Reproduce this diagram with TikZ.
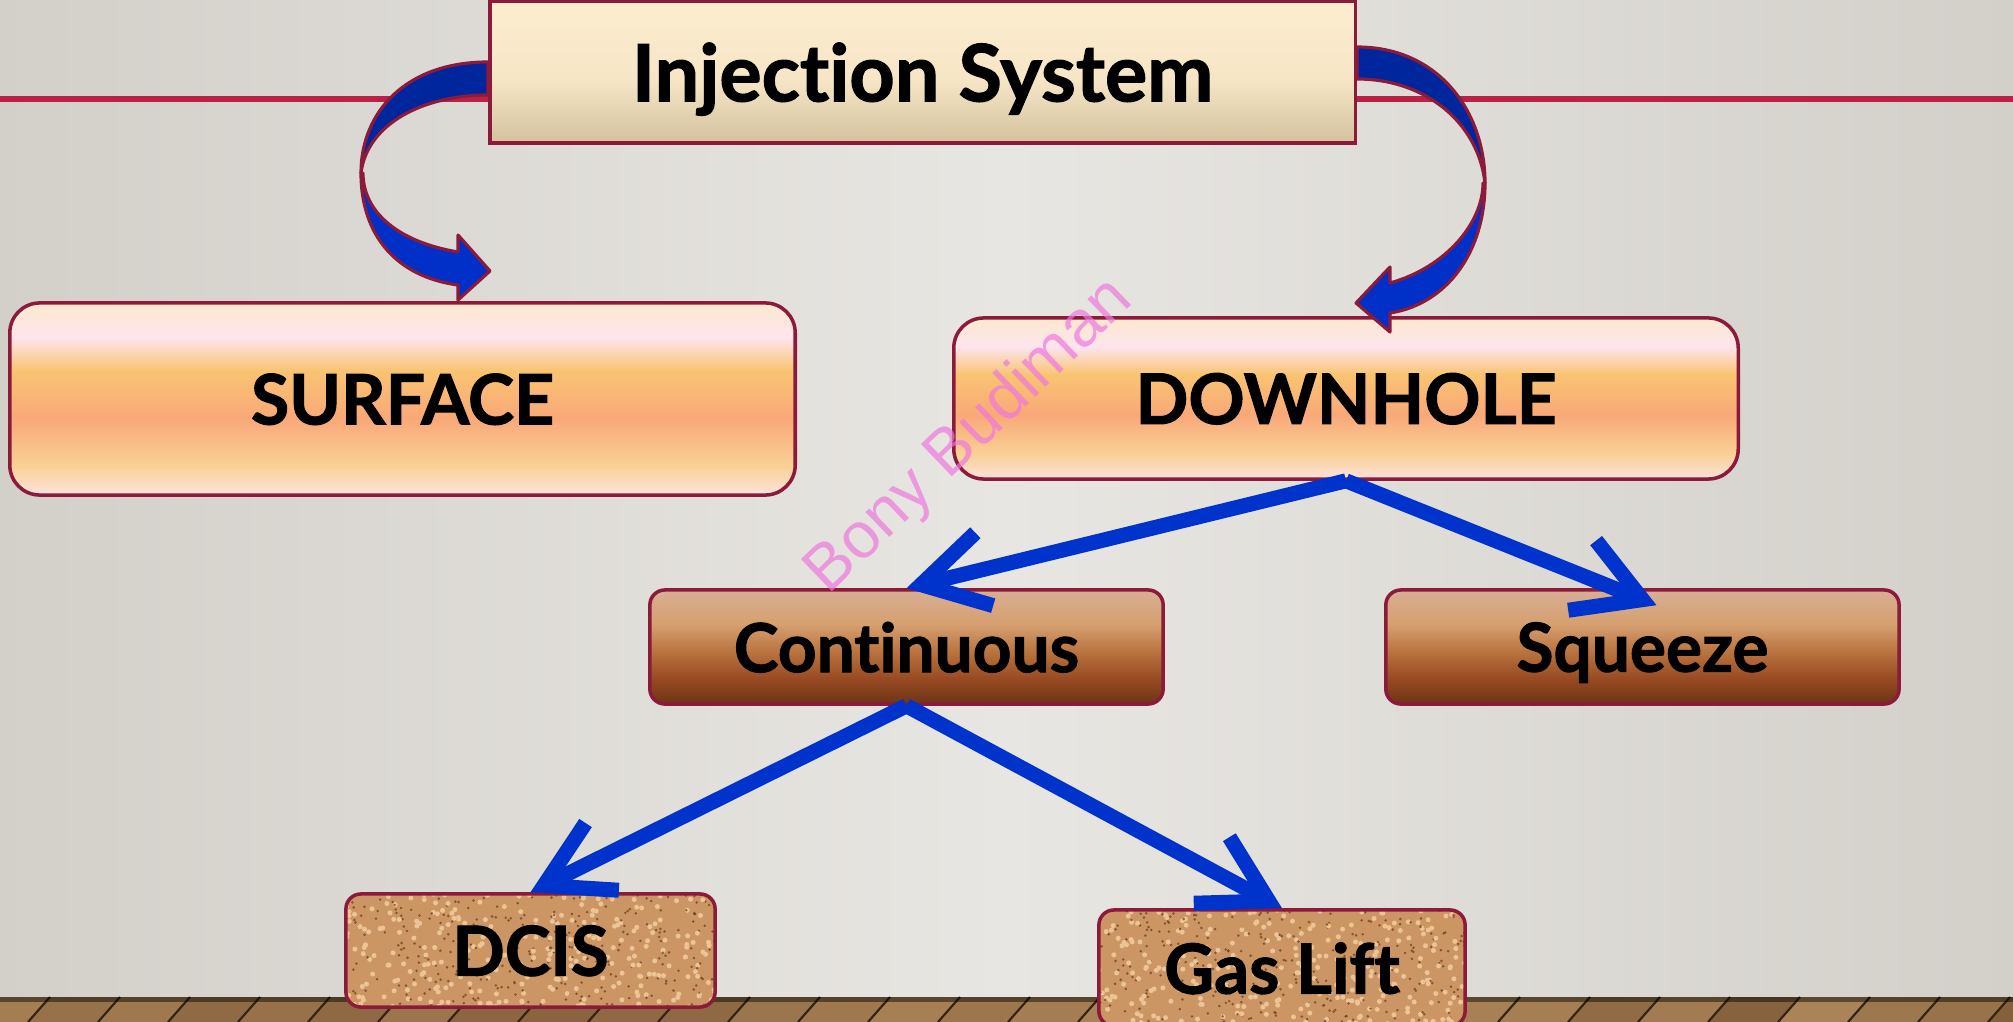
\documentclass[tikz,border=0pt]{standalone}
\usepackage{fontspec}
\setmainfont{Lato}[Ligatures=NoCommon, BoldFeatures={FakeBold=1.5}]
\setsansfont{Liberation Sans}
\usepackage{xcolor}
\usetikzlibrary{arrows.meta, positioning, calc}

\definecolor{boxedge}{RGB}{140,26,58}
\definecolor{redline}{RGB}{185,34,70}
\definecolor{arrowblue}{RGB}{0,51,204}
\definecolor{ribbondark}{RGB}{0,38,158}
\definecolor{ribbonlight}{RGB}{0,48,200}
\definecolor{bgedge}{RGB}{211,208,202}
\definecolor{bgmid}{RGB}{232,230,226}
\definecolor{corkbase}{RGB}{204,150,100}
\definecolor{corkdark}{RGB}{110,62,30}
\definecolor{corklight}{RGB}{236,196,150}
\definecolor{woodA}{RGB}{176,136,92}
\definecolor{woodB}{RGB}{124,88,54}
\definecolor{woodline}{RGB}{50,34,20}
\definecolor{watermark}{RGB}{238,120,222}

% peach bar (SURFACE, DOWNHOLE)
\definecolor{ptop}{RGB}{252,233,204}
\definecolor{ppink}{RGB}{253,228,238}
\definecolor{porange}{RGB}{249,196,114}
\definecolor{psalmon}{RGB}{249,168,120}
\definecolor{plight}{RGB}{249,209,150}
\definecolor{pbot}{RGB}{253,226,222}
\pgfdeclareverticalshading{peachbar}{100bp}{%
  color(0bp)=(pbot); color(25bp)=(pbot); color(32.5bp)=(plight);
  color(45bp)=(psalmon); color(57.5bp)=(porange); color(66bp)=(ppink);
  color(75bp)=(ptop); color(100bp)=(ptop)}

% brown bar (Continuous, Squeeze)
\definecolor{btop}{RGB}{216,174,148}
\definecolor{btan}{RGB}{214,160,112}
\definecolor{bmid}{RGB}{184,114,62}
\definecolor{brust}{RGB}{152,74,34}
\definecolor{bbot}{RGB}{108,52,22}
\pgfdeclareverticalshading{brownbar}{100bp}{%
  color(0bp)=(bbot); color(25bp)=(bbot); color(36bp)=(brust);
  color(47.5bp)=(bmid); color(60bp)=(btan); color(75bp)=(btop);
  color(100bp)=(btop)}

% cream bar (title)
\definecolor{ctop}{RGB}{253,237,208}
\definecolor{cmid}{RGB}{246,230,198}
\definecolor{cbot}{RGB}{212,194,158}
\pgfdeclareverticalshading{creambar}{100bp}{%
  color(0bp)=(cbot); color(25bp)=(cbot); color(47.5bp)=(cmid);
  color(75bp)=(ctop); color(100bp)=(ctop)}

\begin{document}
\begin{tikzpicture}[
    x=0.01cm, y=-0.01cm,
    base/.style={
        rectangle,
        draw=boxedge,
        line width=1pt,
        align=center,
        inner sep=0pt,
        text depth=0pt
    },
    titlebox/.style={
        base,
        shade, shading=creambar,
        minimum width=8.65cm,
        minimum height=1.42cm,
        font=\fontsize{22.5}{26}\selectfont\bfseries
    },
    mainbox/.style={
        base,
        shade, shading=peachbar,
        rounded corners=0.3cm,
        minimum width=7.85cm,
        font=\fontsize{19.8}{23}\selectfont\bfseries
    },
    subbox/.style={
        base,
        shade, shading=brownbar,
        rounded corners=0.15cm,
        minimum width=5.13cm,
        minimum height=1.14cm,
        font=\fontsize{19.2}{23}\selectfont\bfseries
    },
    corkbox/.style={
        base,
        fill=corkbase,
        rounded corners=0.15cm,
        minimum width=3.69cm,
        minimum height=1.13cm,
        font=\fontsize{19.6}{23}\selectfont\bfseries,
        path picture={
            \foreach \k in {1,...,320} {
                \fill[corklight] ($(path picture bounding box.north west)+(rnd*380,rnd*125)$) circle (0.025cm);
                \fill[corkdark, opacity=0.75] ($(path picture bounding box.north west)+(rnd*380,rnd*125)$) circle (0.014cm);
            }
        }
    },
    flow/.style={
        draw=arrowblue,
        line width=0.15cm,
        -{Straight Barb[length=6.5mm, width=7.5mm]}
    },
    ribbon/.style={
        draw=boxedge,
        line width=0.9pt,
        line join=round
    }
]

\useasboundingbox (0,0) rectangle (2013,1022);

% --- Backdrop ----------------------------------------------------------------

\fill[left color=bgedge, right color=bgedge, middle color=bgmid] (0,0) rectangle (2013,997);
\fill[woodB] (0,997) rectangle (2013,1022);
\pgfmathsetseed{11}
\foreach \x in {-20,50,...,2080} {
    \pgfmathsetmacro\mix{50+40*rand}
    \fill[woodA!\mix!woodB] (\x,997) -- (\x+70,997) -- (\x+48,1022) -- (\x-22,1022) -- cycle;
    \draw[woodline, line width=0.6pt] (\x,997) -- (\x-22,1022);
}
\fill[black, opacity=0.45] (0,997) rectangle (2013,1002);
\draw[redline, line width=0.06cm] (0,99) -- (2013,99);

% --- Boxes -------------------------------------------------------------------

\node[titlebox] (inj) at (922.5,72) {Injection System};

\node[mainbox, minimum height=1.92cm] (surface) at (402.5,399) {SURFACE};
\node[mainbox, minimum height=1.61cm, minimum width=7.84cm] (downhole) at (1346,398.5) {DOWNHOLE};

\node[subbox] (cont) at (906.5,647) {Continuous};
\node[subbox, right=2.19cm of cont] (squeeze) {Squeeze};

\node[corkbox] (dcis) at (530.5,950.5) {DCIS};
\node[corkbox, minimum width=3.66cm, minimum height=1.16cm] (gaslift) at (1282,968) {Gas Lift};

% --- Curved ribbons ----------------------------------------------------------

\begin{scope}[shift={(inj.west)}]
    \filldraw[ribbon, fill=ribbondark] (0,-10) .. controls (-82,-10) and (-127,40) .. (-127,101)
        .. controls (-121,52) and (-65,23) .. (0,23) -- cycle;
    \filldraw[ribbon, fill=ribbonlight] (-127,101) .. controls (-127,165) and (-90,205) .. (-30,213)
        -- (-30,228) -- (2,199) -- (-30,163) -- (-30,180)
        .. controls (-90,170) and (-125,140) .. (-125,101) -- cycle;
\end{scope}

\begin{scope}[shift={(inj.east)}]
    \filldraw[ribbon, fill=ribbondark] (0,-25) .. controls (82,-25) and (128,40) .. (128,111)
        .. controls (121,50) and (68,7) .. (0,7) -- cycle;
    \filldraw[ribbon, fill=ribbonlight] (128,111) .. controls (128,180) and (90,232) .. (33,241)
        -- (33,260) -- (-1,231) -- (33,195) -- (33,211)
        .. controls (90,195) and (126,150) .. (126,111) -- cycle;
\end{scope}

% --- Arrows ------------------------------------------------------------------

\draw[flow] (downhole.south) -- (cont.north);
\draw[flow] (downhole.south) -- ($(squeeze.north)+(14,17)$);
\draw[flow] (cont.south) -- (dcis.north);
\draw[flow] (cont.south) -- (gaslift.north);

% --- Watermark ---------------------------------------------------------------

\node[rotate=43.8, text=watermark, opacity=0.7, font=\sffamily\fontsize{18.5}{20}\selectfont] (mark) at (970,437) {Bony Budiman};

\end{tikzpicture}
\end{document}
